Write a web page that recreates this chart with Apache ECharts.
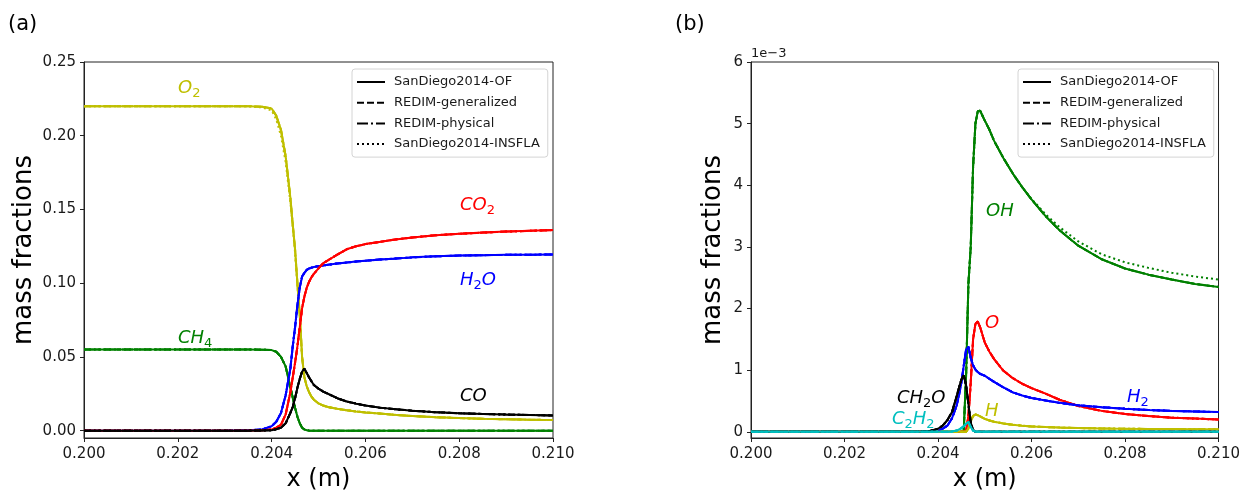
<!DOCTYPE html>
<html><head><meta charset="utf-8">
<script src="https://cdn.jsdelivr.net/npm/echarts@6/dist/echarts.min.js"></script>
<style>html,body{margin:0;padding:0;background:#fff}#c{width:1243px;height:497px}</style>
</head><body><div id="c"></div>
<script>
// shared x positions (m)
const xs = [0.200,0.201,0.202,0.203,0.2035,0.2038,0.2040,0.2041,0.2042,0.2043,0.2044,0.20445,0.2045,0.20455,0.2046,0.20465,0.2047,0.20475,0.2048,0.20485,0.2049,0.2050,0.2051,0.2052,0.2054,0.2056,0.2058,0.2060,0.2063,0.2066,0.2070,0.2075,0.2080,0.2085,0.2090,0.2095,0.2100];

// panel (a): mass fractions
const O2 = [0.220,0.220,0.220,0.220,0.220,0.2197,0.2185,0.2135,0.204,0.186,0.158,0.140,0.123,0.100,0.079,0.050,0.036,0.030,0.026,0.023,0.021,0.0185,0.0170,0.0160,0.0148,0.0138,0.0130,0.0123,0.0116,0.0108,0.0099,0.0091,0.0085,0.0080,0.0077,0.0074,0.0072];
const O2_insfla = [0.220,0.220,0.220,0.220,0.2199,0.2192,0.2172,0.2110,0.200,0.182,0.155,0.138,0.121,0.098,0.077,0.050,0.036,0.030,0.026,0.023,0.021,0.0185,0.0170,0.0160,0.0148,0.0138,0.0130,0.0123,0.0116,0.0108,0.0099,0.0091,0.0085,0.0080,0.0077,0.0074,0.0072];
const CH4 = [0.0550,0.0550,0.0550,0.0550,0.0550,0.0549,0.0546,0.0535,0.0500,0.0435,0.0295,0.0225,0.0155,0.0095,0.0050,0.0020,0.0008,0.0003,0,0,0,0,0,0,0,0,0,0,0,0,0,0,0,0,0,0,0];
const H2O = [0,0,0,0,0.0002,0.0008,0.003,0.006,0.012,0.024,0.042,0.057,0.070,0.085,0.097,0.1045,0.107,0.109,0.110,0.1105,0.111,0.1115,0.112,0.1125,0.1133,0.114,0.1147,0.1152,0.116,0.1166,0.1175,0.1182,0.1187,0.119,0.1192,0.1193,0.1195];
const CO2 = [0,0,0,0,0,0.0002,0.0008,0.002,0.004,0.011,0.026,0.036,0.046,0.057,0.070,0.083,0.091,0.097,0.101,0.104,0.1063,0.110,0.1135,0.1155,0.1193,0.123,0.125,0.1265,0.128,0.1295,0.131,0.1325,0.1335,0.1343,0.135,0.1355,0.136];
const CO = [0,0,0,0,0,0.0001,0.0003,0.001,0.002,0.005,0.012,0.016,0.022,0.029,0.035,0.040,0.042,0.039,0.036,0.0335,0.031,0.0285,0.0265,0.025,0.022,0.0198,0.0183,0.0170,0.0156,0.0146,0.0135,0.0125,0.0118,0.0113,0.0109,0.0106,0.0103];

// panel (b): mass fractions in units of 1e-3
const OH = [0,0,0,0,0,0,0,0,0,0,0,0,0,0.02,0.9,2.4,3.0,4.3,5.0,5.2,5.21,5.05,4.9,4.72,4.44,4.19,3.97,3.77,3.50,3.27,3.02,2.80,2.65,2.55,2.47,2.40,2.35];
const OH_insfla = [0,0,0,0,0,0,0,0,0,0,0,0,0,0.02,0.9,2.4,3.0,4.3,5.0,5.2,5.21,5.05,4.9,4.72,4.44,4.19,3.97,3.78,3.53,3.32,3.09,2.88,2.75,2.66,2.58,2.52,2.47];
const O = [0,0,0,0,0,0,0,0,0,0,0,0,0,0,0.02,0.25,0.8,1.5,1.75,1.79,1.70,1.45,1.30,1.18,0.99,0.87,0.78,0.71,0.62,0.52,0.42,0.34,0.29,0.255,0.23,0.215,0.20];
const H2 = [0,0,0,0,0,0.005,0.02,0.05,0.10,0.22,0.43,0.60,0.80,1.07,1.33,1.38,1.20,1.08,1.01,0.97,0.94,0.91,0.86,0.81,0.72,0.64,0.59,0.55,0.51,0.47,0.43,0.40,0.375,0.355,0.34,0.33,0.32];
const CH2O = [0,0,0,0,0,0.01,0.05,0.10,0.19,0.32,0.58,0.72,0.85,0.92,0.76,0.45,0.15,0.03,0,0,0,0,0,0,0,0,0,0,0,0,0,0,0,0,0,0,0];
const H = [0,0,0,0,0,0,0,0,0,0,0,0,0,0,0,0.05,0.17,0.26,0.28,0.27,0.25,0.21,0.185,0.165,0.135,0.115,0.10,0.088,0.077,0.069,0.061,0.055,0.050,0.047,0.045,0.043,0.042];
const C2H2 = [0,0,0,0,0,0,0,0,0,0.005,0.02,0.04,0.06,0.09,0.13,0.16,0.08,0.02,0.005,0,0,0,0,0,0,0,0,0,0,0,0,0,0,0,0,0,0];

const methods = ['SanDiego2014-OF','REDIM-generalized','REDIM-physical','SanDiego2014-INSFLA'];
const xTicks = [0.200,0.202,0.204,0.206,0.208,0.210];
const yTicksA = [0,0.05,0.10,0.15,0.20,0.25];
const yTicksB = [0,1,2,3,4,5,6];

const dashes = ['solid',[7,3],[11,3,2,3],[2,3]];
const FONT = 'DejaVu Sans';
const TXT = '#1a1a1a';

function pairs(vals){ return xs.map((x,i)=>[x, vals[i]]); }

const series = [];
function addSpecies(gi, arrs, color){
  arrs.forEach((a,k)=>{
    series.push({type:'line', xAxisIndex:gi, yAxisIndex:gi, data:pairs(a), showSymbol:false, symbol:'none',
      silent:true, lineStyle:{color:color, width:2, type:dashes[k]}, z:2});
  });
}
const Y='#bfbf00', G='#008000', R='#ff0000', B='#0000ff', K='#000000', C='#00bfbf';
addSpecies(0,[O2,O2,O2,O2_insfla],Y);
addSpecies(0,[CH4,CH4,CH4,CH4],G);
addSpecies(0,[H2O,H2O,H2O,H2O],B);
addSpecies(0,[CO2,CO2,CO2,CO2],R);
addSpecies(0,[CO,CO,CO,CO],K);

addSpecies(1,[OH,OH,OH,OH_insfla],G);
addSpecies(1,[O,O,O,O],R);
addSpecies(1,[H2,H2,H2,H2],B);
addSpecies(1,[H,H,H,H],Y);
addSpecies(1,[CH2O,CH2O,CH2O,CH2O],K);
addSpecies(1,[C2H2,C2H2,C2H2,C2H2],C);

// legend entries (style samples)
methods.forEach((m,k)=>{
  series.push({type:'line', name:m, xAxisIndex:0, yAxisIndex:0, data:[], symbol:'none',
    itemStyle:{color:'#000', opacity:0},
    lineStyle:{color:'#000', width:2, type:dashes[k]}});
});

function xAxis(gi){
  return {type:'value', gridIndex:gi, min:0.2, max:0.21,
    name:'x (m)', nameLocation:'middle', nameGap:30,
    nameTextStyle:{fontFamily:FONT, fontSize:24, color:'#000'},
    axisLine:{onZero:false, lineStyle:{color:'#222', width:1}},
    axisTick:{show:true, length:4, customValues:xTicks, lineStyle:{color:'#222'}},
    axisLabel:{customValues:xTicks, margin:9, fontFamily:FONT, fontSize:15, color:TXT, formatter:v=>v.toFixed(3)},
    splitLine:{show:false}};
}
function yAxis(gi, min, max, ticks, fmt, gap){
  return {type:'value', gridIndex:gi, min:min, max:max,
    name:'mass fractions', nameLocation:'middle', nameGap:gap,
    nameTextStyle:{fontFamily:FONT, fontSize:26, color:'#000'},
    axisLine:{show:true, onZero:false, lineStyle:{color:'#222', width:1}},
    axisTick:{show:true, length:4, customValues:ticks, lineStyle:{color:'#222'}},
    axisLabel:{customValues:ticks, margin:8, fontFamily:FONT, fontSize:15, color:TXT, formatter:fmt},
    splitLine:{show:false}};
}

function legend(left){
  return {data:methods, orient:'vertical', left:left, top:69, padding:[6,8,6,4], itemGap:6.7,
    itemWidth:28, itemHeight:14, backgroundColor:'#fff', borderColor:'#d4d4d4', borderWidth:1, borderRadius:3,
    selectedMode:false,
    itemStyle:{color:'rgba(0,0,0,0)', borderColor:'rgba(0,0,0,0)', borderWidth:0, opacity:0},
    textStyle:{fontFamily:FONT, fontSize:13, color:TXT, padding:[0,0,0,4], lineHeight:14}};
}

function label(x, y, parts, color){
  const text = parts.map(p=>p[1]?'{s|'+p[0]+'}':'{i|'+p[0]+'}').join('');
  return {type:'text', x:x, y:y, silent:true, z:10,
    style:{text:text, fill:color, align:'left', verticalAlign:'middle',
      rich:{ i:{fontFamily:FONT, fontStyle:'italic', fontSize:18, fill:color},
             s:{fontFamily:FONT, fontSize:13, fill:color, padding:[12,0,0,0]} }}};
}

const option = {
  animation:false,
  backgroundColor:'#fff',
  grid:[
    {left:84, top:62, width:469, height:380, show:true, borderColor:'#222', borderWidth:1, backgroundColor:'transparent'},
    {left:751, top:62, width:469, height:380, show:true, borderColor:'#222', borderWidth:1, backgroundColor:'transparent'}
  ],
  xAxis:[xAxis(0), xAxis(1)],
  yAxis:[yAxis(0,-0.005,0.25,yTicksA,v=>v.toFixed(2),47), yAxis(1,-0.1,6,yTicksB,v=>String(Math.round(v)),25)],
  legend:[legend(352), legend(1018)],
  series:series,
  graphic:[
    {type:'text', x:8, y:25, style:{text:'(a)', fontFamily:FONT, fontSize:21, fill:'#000', align:'left', verticalAlign:'middle'}},
    {type:'text', x:675, y:25, style:{text:'(b)', fontFamily:FONT, fontSize:21, fill:'#000', align:'left', verticalAlign:'middle'}},
    {type:'text', x:751, y:54, style:{text:'1e\u22123', fontFamily:FONT, fontSize:13, fill:TXT, align:'left', verticalAlign:'middle'}},
    label(178, 88, [['O'],['2',1]], Y),
    label(178, 338, [['CH'],['4',1]], G),
    label(460, 205, [['CO'],['2',1]], R),
    label(460, 280, [['H'],['2',1],['O']], B),
    label(460, 396, [['CO']], K),
    label(986, 211, [['OH']], G),
    label(985, 323, [['O']], R),
    label(897, 398, [['CH'],['2',1],['O']], K),
    label(892, 419, [['C'],['2',1],['H'],['2',1]], C),
    label(985, 411, [['H']], Y),
    label(1127, 397, [['H'],['2',1]], B)
  ]
};
const chart = echarts.init(document.getElementById('c'), null, {renderer:'canvas'});
chart.setOption(option);
</script>
</body></html>
